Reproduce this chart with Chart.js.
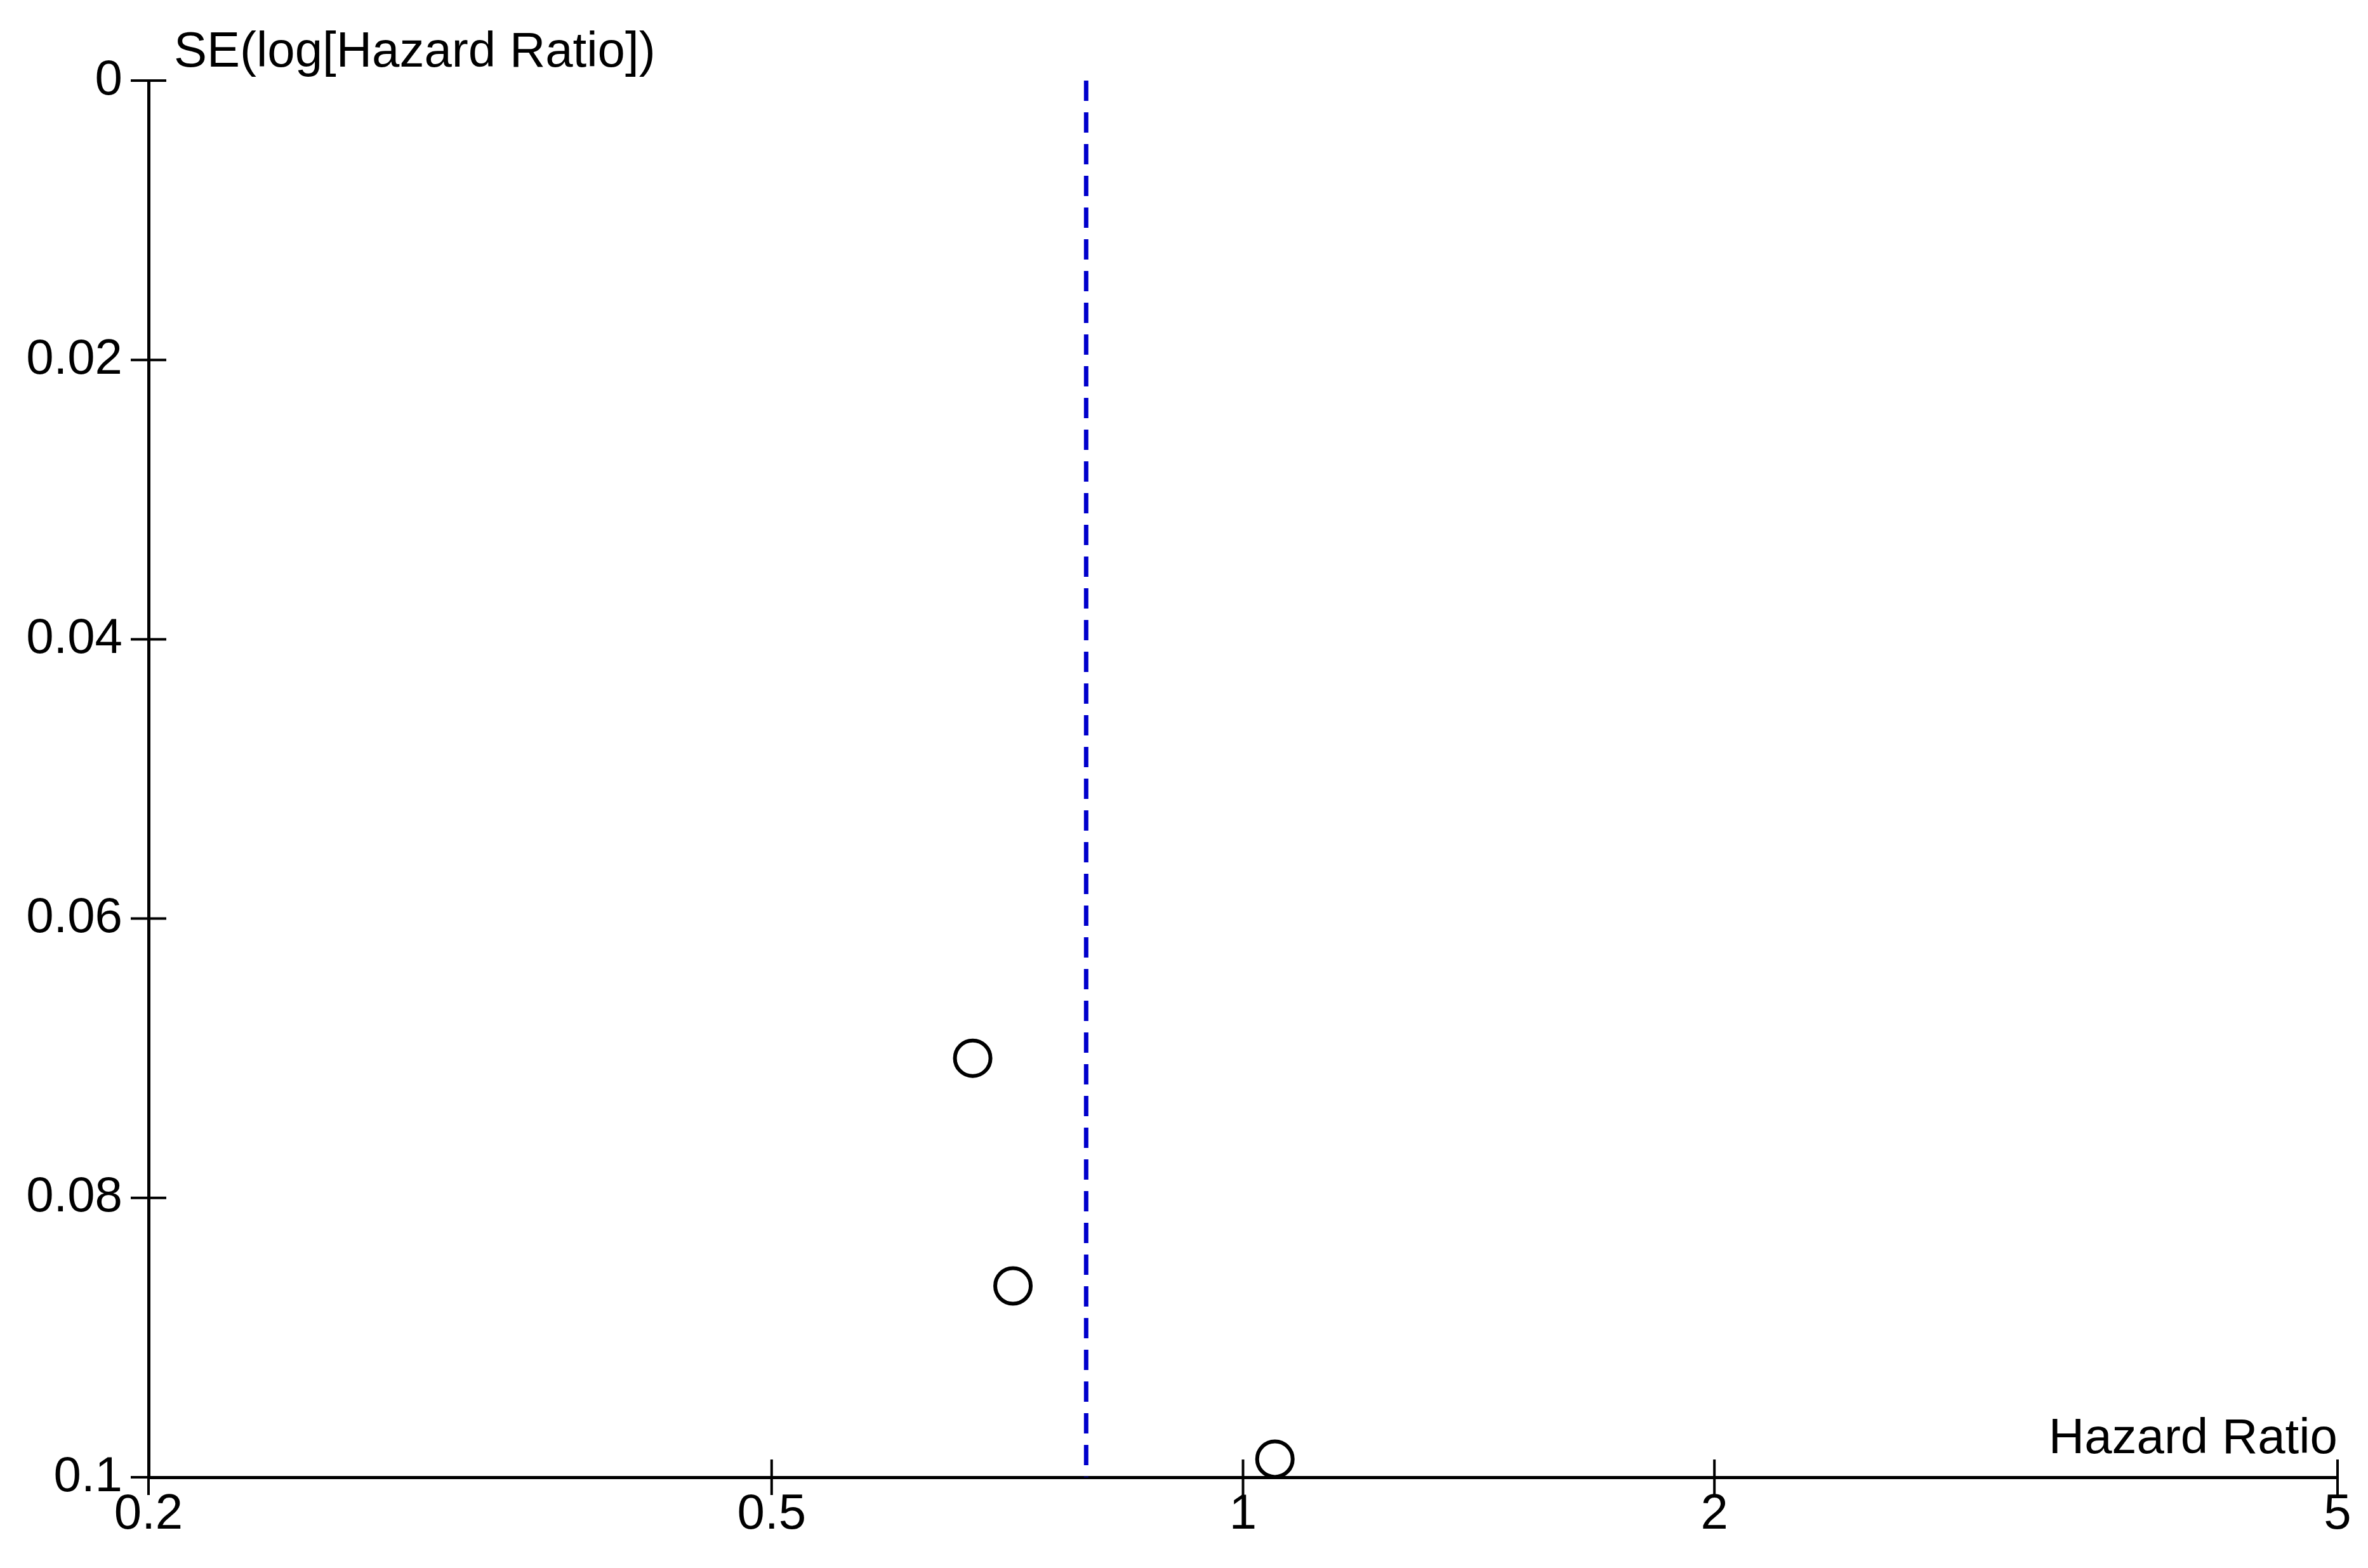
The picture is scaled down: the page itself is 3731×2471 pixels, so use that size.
<!DOCTYPE html>
<html>
<head>
<meta charset="utf-8">
<script src="https://cdn.jsdelivr.net/npm/chart.js@4.4.1/dist/chart.umd.min.js"></script>
<style>
  html, body { margin: 0; padding: 0; background: #fff; }
  canvas { display: block; }
</style>
</head>
<body>
<canvas id="funnel" width="3731" height="2471"></canvas>
<script>
// funnel plot data
const hazardRatios = [0.672, 0.713, 1.048];
const seLogHR = [0.070, 0.0863, 0.0987];
const pooledHR = 0.794;

const xTicks = [0.2, 0.5, 1, 2, 5];
const xTickLabels = ['0.2', '0.5', '1', '2', '5'];
const yTicks = [0, 0.02, 0.04, 0.06, 0.08, 0.1];
const yTickLabels = ['0', '0.02', '0.04', '0.06', '0.08', '0.1'];

const FONT = { family: '"Liberation Sans", Arial, sans-serif', size: 78, lineHeight: 1.2 };

const points = hazardRatios.map((hr, i) => ({ x: hr, y: seLogHR[i] }));

// ticks that cross the axis line, like the original
const crossTicks = {
  id: 'crossTicks',
  afterDraw(chart) {
    const ctx = chart.ctx;
    const xs = chart.scales.x, ys = chart.scales.y;
    const area = chart.chartArea;
    const half = 28;
    ctx.save();
    ctx.strokeStyle = '#000';
    ctx.lineWidth = 4;
    ctx.beginPath();
    xTicks.forEach(v => {
      const px = xs.getPixelForValue(v);
      ctx.moveTo(px, area.bottom - half);
      ctx.lineTo(px, area.bottom + half);
    });
    yTicks.forEach(v => {
      const py = ys.getPixelForValue(v);
      ctx.moveTo(area.left - half, py);
      ctx.lineTo(area.left + half, py);
    });
    ctx.stroke();

    // axis titles
    ctx.fillStyle = '#000';
    ctx.font = FONT.size + 'px ' + FONT.family;
    ctx.textBaseline = 'alphabetic';
    ctx.textAlign = 'left';
    ctx.fillText('SE(log[Hazard Ratio])', area.left + 40, area.top - 22);
    ctx.textAlign = 'right';
    ctx.fillText('Hazard Ratio', area.right, area.bottom - 38);
    ctx.restore();
  }
};

new Chart(document.getElementById('funnel'), {
  type: 'scatter',
  data: {
    datasets: [
      {
        label: 'Studies',
        data: points,
        pointStyle: 'circle',
        pointRadius: 28,
        pointHoverRadius: 28,
        borderWidth: 6,
        borderColor: '#000',
        backgroundColor: 'rgba(0,0,0,0)',
        clip: false,
        order: 1
      },
      {
        label: 'Pooled',
        data: [{ x: pooledHR, y: 0 }, { x: pooledHR, y: 0.1 }],
        showLine: true,
        pointRadius: 0,
        borderColor: '#0000cc',
        borderWidth: 7,
        borderDash: [32, 18],
        order: 2
      }
    ]
  },
  options: {
    responsive: false,
    devicePixelRatio: 1,
    animation: false,
    layout: { padding: { left: 0, right: 48, top: 127, bottom: 0 } },
    plugins: {
      legend: { display: false },
      tooltip: { enabled: false }
    },
    scales: {
      x: {
        type: 'logarithmic',
        min: 0.2,
        max: 5,
        afterBuildTicks: s => { s.ticks = xTicks.map(v => ({ value: v })); },
        afterFit: s => { s.height = 143; },
        grid: { display: true, drawOnChartArea: false, drawTicks: false },
        border: { display: true, color: '#000', width: 5 },
        ticks: {
          color: '#000',
          font: FONT,
          padding: 13,
          maxRotation: 0,
          autoSkip: false,
          callback: v => {
            const i = xTicks.indexOf(v);
            return i >= 0 ? xTickLabels[i] : '';
          }
        }
      },
      y: {
        type: 'linear',
        reverse: true,
        min: 0,
        max: 0.1,
        afterBuildTicks: s => { s.ticks = yTicks.map(v => ({ value: v })); },
        afterFit: s => { s.width = 234; },
        grid: { display: true, drawOnChartArea: false, drawTicks: false },
        border: { display: true, color: '#000', width: 5 },
        ticks: {
          color: '#000',
          font: FONT,
          padding: 41,
          autoSkip: false,
          callback: (v, i) => yTickLabels[i]
        }
      }
    }
  },
  plugins: [crossTicks]
});
</script>
</body>
</html>
